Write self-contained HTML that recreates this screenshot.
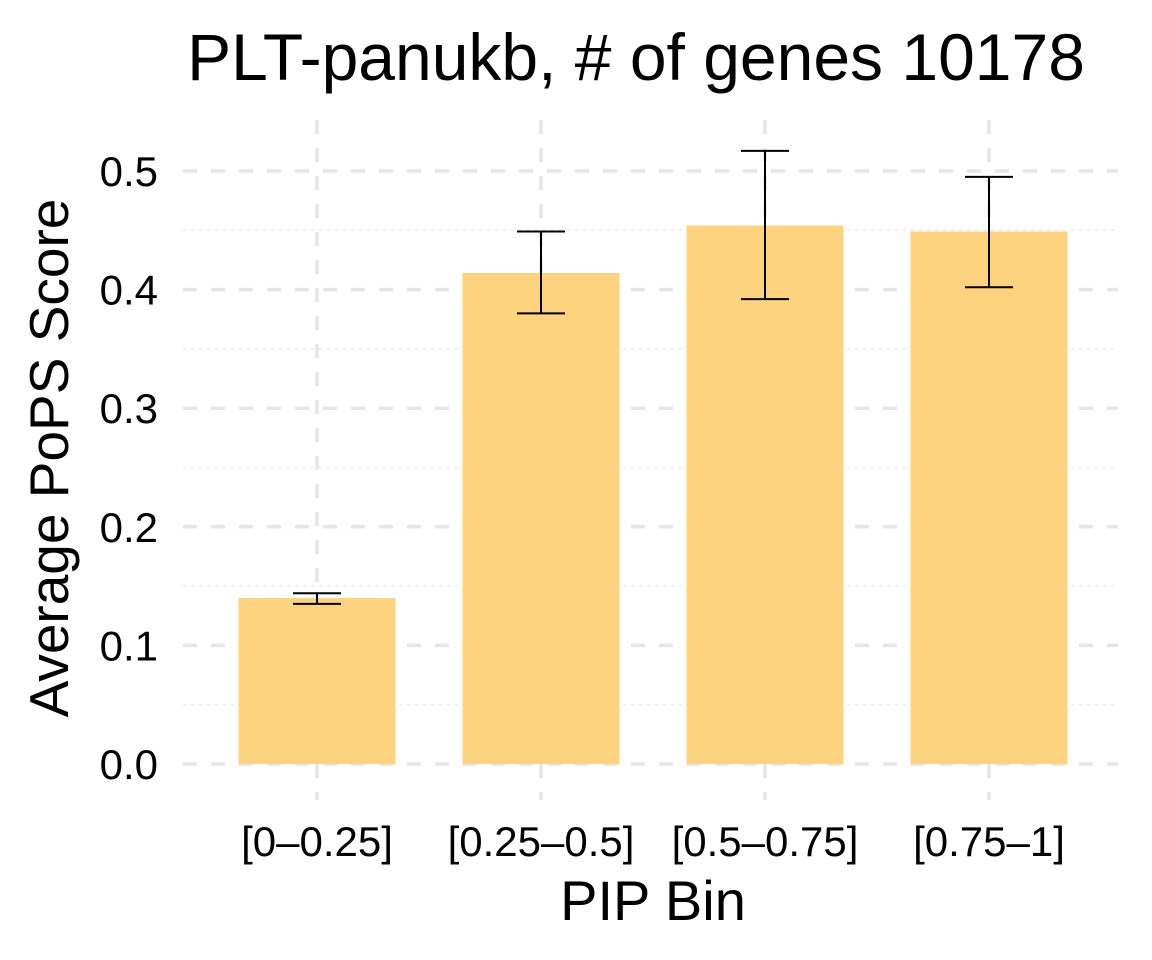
<!DOCTYPE html>
<html><head><meta charset="utf-8"><style>
html,body{margin:0;padding:0;background:#fff;}
svg{display:block;font-family:"Liberation Sans",Arial,sans-serif;}
</style></head><body>
<svg id="chart" width="1152" height="960" viewBox="0 0 1152 960" xmlns="http://www.w3.org/2000/svg">
<text x="636" y="80" font-size="66" text-anchor="middle" fill="#000">PLT-panukb, # of genes 10178</text>
<g id="grid"></g>
<g id="bars"></g>
<g id="errs"></g>
<g id="yticks"></g>
<g id="xticks"></g>
<text x="653" y="920" font-size="56" text-anchor="middle" fill="#000">PIP Bin</text>
<text transform="translate(68,458) rotate(-90)" font-size="55" text-anchor="middle" fill="#000">Average PoPS Score</text>
</svg>
<script>
const categories = ["[0\u20130.25]","[0.25\u20130.5]","[0.5\u20130.75]","[0.75\u20131]"];
const means = [0.140, 0.414, 0.454, 0.449];
const lower = [0.135, 0.380, 0.392, 0.402];
const upper = [0.144, 0.449, 0.517, 0.495];
const yTicks = [0, 0.1, 0.2, 0.3, 0.4, 0.5];
const yTickLabels = ["0.0","0.1","0.2","0.3","0.4","0.5"];
const yMinor = [0.05, 0.15, 0.25, 0.35, 0.45, 0.55];

const NS = "http://www.w3.org/2000/svg";
const y0 = 764, pxPerUnit = 1186;
const y = v => y0 - v * pxPerUnit;
const x = i => 317 + i * 224;
const bw = 157, cap = 48, left = 183, right = 1118;
function mk(tag, attrs, parent){const e=document.createElementNS(NS,tag);for(const k in attrs)e.setAttribute(k,attrs[k]);document.getElementById(parent).appendChild(e);return e;}

yMinor.forEach(v=>{ if(y(v)<120) return;
  const l=mk("line",{x1:left,x2:right,y1:y(v),y2:y(v),stroke:"#ebebeb","stroke-width":1.5,"stroke-dasharray":"3,5"},"grid");
  
  
});
yTicks.forEach((v,i)=>{
  const l=mk("line",{x1:left,x2:right,y1:y(v),y2:y(v),stroke:"#e5e5e5","stroke-width":3.5,"stroke-dasharray":"14,14"},"grid");
  
  
  const t=mk("text",{x:158,y:y(v)+15,"font-size":42,"text-anchor":"end",fill:"#000"},"yticks");
  t.textContent=yTickLabels[i];
  
  
});
categories.forEach((c,i)=>{
  const l=mk("line",{x1:x(i),x2:x(i),y1:120,y2:800,stroke:"#e5e5e5","stroke-width":3.5,"stroke-dasharray":"14,14"},"grid");
  
  
  const r=mk("rect",{x:x(i)-bw/2,y:y(means[i]),width:bw,height:y0-y(means[i]),fill:"#fed380"},"bars");
  
  
  const g=mk("g",{stroke:"#000","stroke-width":2,fill:"none"},"errs");
  
  
  const p=document.createElementNS(NS,"path");
  p.setAttribute("d",`M${x(i)-cap/2},${y(upper[i])}H${x(i)+cap/2}M${x(i)},${y(upper[i])}V${y(lower[i])}M${x(i)-cap/2},${y(lower[i])}H${x(i)+cap/2}`);
  g.appendChild(p);
  const t=mk("text",{x:x(i),y:856,"font-size":42,"text-anchor":"middle",fill:"#000"},"xticks");
  t.textContent=c;
  
  
});
</script>
</body></html>
